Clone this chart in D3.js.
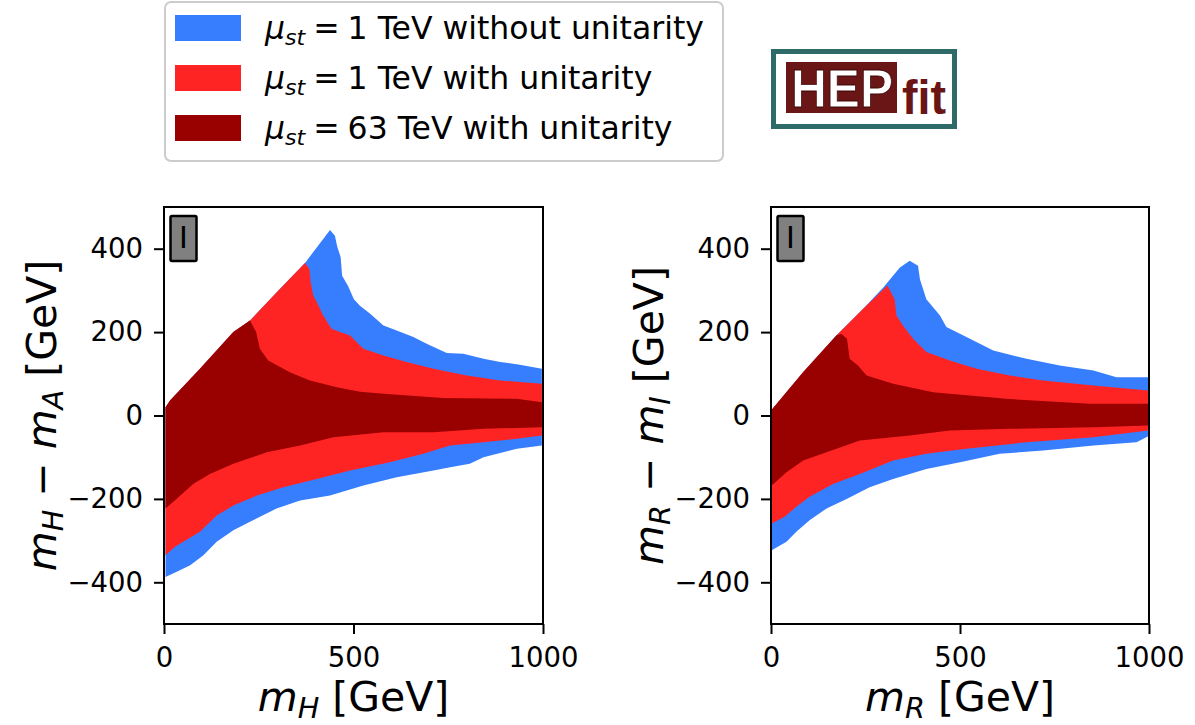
<!DOCTYPE html>
<html>
<head>
<meta charset="utf-8">
<script src="https://cdn.jsdelivr.net/npm/d3@7"></script>
<style>
body { margin: 0; background: #fff; }
svg { display: block; font-family: "DejaVu Sans", sans-serif; }
text { white-space: pre; }
</style>
</head>
<body>
<svg id="chart" width="1195" height="725"></svg>
<script>
// axis ticks
var xTicks = [0, 500, 1000];
var yTicks = [-400, -200, 0, 200, 400];

// legend
var seriesColors = ["#377eff", "#ff2424", "#990000"];
var legendLabels = ["1 TeV without unitarity", "1 TeV with unitarity", "63 TeV with unitarity"];

// left panel: m_H vs m_H - m_A, boundaries [x, y]
var leftBlueUpper = [[4,20],[16,36],[95,112],[183,200],[227,228],[300,298],[372,366],[405,405],[438,445],
  [451,431],[457,405],[466,380],[470,335],[486,310],[501,279],[517,263],[544,244],[579,216],[614,204],
  [658,188],[693,172],[746,150],[790,148],[843,136],[887,128],[939,122],[997,112]];
var leftBlueLower = [[4,-387],[42,-371],[69,-359],[104,-335],[139,-303],[183,-275],[227,-255],[297,-223],
  [359,-204],[438,-192],[526,-168],[614,-148],[711,-132],[755,-124],[807,-116],[843,-100],[931,-80],[997,-72]];
var leftRedUpper = [[4,20],[16,36],[95,112],[183,200],[227,228],[300,298],[372,366],
  [384,351],[387,319],[394,287],[403,272],[420,240],[442,208],[464,200],[491,192],[526,160],[579,144],
  [640,128],[711,112],[799,96],[887,84],[997,76]];
var leftRedLower = [[4,-335],[29,-315],[51,-303],[95,-279],[139,-240],[183,-216],[245,-192],[315,-172],
  [403,-152],[491,-132],[596,-112],[684,-92],[755,-72],[843,-64],[931,-56],[997,-48]];
var leftDarkUpper = [[4,20],[16,36],[95,112],[183,200],[227,228],
  [243,200],[253,160],[275,132],[332,104],[385,84],[456,68],[517,57],[579,52],[737,42],[931,40],[997,32]];
var leftDarkLower = [[4,-223],[33,-200],[77,-164],[121,-140],[183,-116],[271,-88],[359,-72],[447,-52],
  [579,-40],[711,-40],[843,-32],[997,-28]];

// right panel: m_R vs m_R - m_I
var rightBlueUpper = [[2,14],[85,104],[173,192],[244,256],[297,307],[341,355],[367,371],
  [389,359],[394,327],[411,279],[447,240],[464,212],[517,188],[588,156],[676,136],[764,120],[853,108],
  [914,92],[998,92]];
var rightBlueLower = [[2,-323],[41,-303],[67,-279],[102,-251],[147,-223],[200,-200],[261,-172],[323,-152],
  [411,-128],[500,-112],[605,-92],[720,-84],[853,-72],[967,-64],[998,-50]];
var rightRedUpper = [[2,14],[85,104],[173,192],[244,256],[308,312],
  [327,279],[332,240],[349,216],[376,184],[411,152],[473,132],[544,112],[632,96],[720,84],[853,72],[998,60]];
var rightRedLower = [[2,-259],[36,-243],[67,-219],[102,-195],[164,-164],[235,-140],[323,-108],[411,-92],
  [517,-80],[676,-64],[853,-52],[998,-36]];
var rightDarkUpper = [[2,14],[85,104],[173,192],[186,196],
  [201,184],[208,136],[230,120],[253,96],[323,76],[429,56],[623,40],[844,28],[998,28]];
var rightDarkLower = [[2,-168],[41,-136],[85,-108],[147,-88],[235,-60],[367,-48],[473,-36],[632,-32],
  [853,-28],[998,-24]];

var panels = [
  {id: "left", left: 164, right: 543,
   upper: [leftBlueUpper, leftRedUpper, leftDarkUpper],
   lower: [leftBlueLower, leftRedLower, leftDarkLower],
   xsub: "H", ysub: ["H", "A"]},
  {id: "right", left: 771, right: 1149,
   upper: [rightBlueUpper, rightRedUpper, rightDarkUpper],
   lower: [rightBlueLower, rightRedLower, rightDarkLower],
   xsub: "R", ysub: ["R", "I"]}
];

var chart = {
  top: 207,
  bottom: 624,
  initialize: function(){
    var self = this;
    self.svg = d3.select('#chart');
    self._render_legend();
    self._render_logo();
    panels.forEach(function(p){
      self._render_panel(p);
    });
    return self;
  },
  // mathtext-like run of tspans, subscripts shifted down
  _math: function(text, parts, fs){
    var shift = 0;
    parts.forEach(function(p){
      var target = p.sub ? fs * 0.18 : 0;
      var ts = text.append('tspan').text(p.t).attr('dy', target - shift);
      shift = target;
      if(p.sub) ts.attr('font-size', fs * 0.7);
      if(p.i) ts.attr('font-style', 'italic');
      if(p.dx) ts.attr('dx', p.dx);
    });
  },
  _render_legend: function(){
    var self = this;
    var g = self.svg.append('g');
    g.append('rect')
      .attr('x', 165).attr('y', 2).attr('width', 558).attr('height', 159)
      .attr('rx', 6)
      .attr('fill', '#fff').attr('stroke', '#cccccc').attr('stroke-width', 2);
    legendLabels.forEach(function(lab, i){
      var cy = 28 + i * 50;
      g.append('rect')
        .attr('x', 175).attr('y', cy - 13).attr('width', 66).attr('height', 26)
        .attr('fill', seriesColors[i]);
      var t = g.append('text')
        .attr('x', 265).attr('y', cy + 11)
        .attr('font-size', 31.5).attr('fill', '#000');
      self._math(t, [{t: 'μ', i: true}, {t: 'st', i: true, sub: true},
        {t: '=', dx: 8}, {t: lab, dx: 8}], 31.5);
    });
  },
  _render_logo: function(){
    var g = this.svg.append('g');
    g.append('rect')
      .attr('x', 773.5).attr('y', 51.5).attr('width', 181).attr('height', 75)
      .attr('fill', '#fff').attr('stroke', '#2e6b68').attr('stroke-width', 5);
    g.append('rect')
      .attr('x', 786).attr('y', 62).attr('width', 111).attr('height', 51)
      .attr('fill', '#6b1616');
    g.append('text')
      .attr('x', 842).attr('y', 107)
      .attr('text-anchor', 'middle')
      .attr('font-family', '"Liberation Sans", Arial, sans-serif')
      .attr('font-weight', 'bold').attr('font-size', 53)
      .attr('textLength', 102).attr('lengthAdjust', 'spacingAndGlyphs')
      .attr('fill', '#fff').attr('stroke', '#3a0808').attr('stroke-width', 0.8)
      .text('HEP');
    g.append('text')
      .attr('x', 924).attr('y', 114)
      .attr('text-anchor', 'middle')
      .attr('font-family', '"Liberation Sans", Arial, sans-serif')
      .attr('font-weight', 'bold').attr('font-size', 48)
      .attr('textLength', 44).attr('lengthAdjust', 'spacingAndGlyphs')
      .attr('fill', '#6b1616')
      .text('fit');
  },
  _render_panel: function(p){
    var self = this;
    var svg = self.svg;
    var x = d3.scaleLinear().domain([0, 1000]).range([p.left, p.right]);
    var y = d3.scaleLinear().domain([-500, 500]).range([self.bottom, self.top]);

    svg.append('clipPath').attr('id', 'clip-' + p.id)
      .append('rect')
      .attr('x', p.left).attr('y', self.top)
      .attr('width', p.right - p.left).attr('height', self.bottom - self.top);

    var line = d3.line()
      .x(function(d){ return x(d[0]); })
      .y(function(d){ return y(d[1]); });

    var g = svg.append('g').attr('clip-path', 'url(#clip-' + p.id + ')');
    p.upper.forEach(function(up, i){
      var ring = up.concat(p.lower[i].slice().reverse());
      g.append('path')
        .attr('d', line(ring) + 'Z')
        .attr('fill', seriesColors[i]);
    });

    // "I" badge
    svg.append('rect')
      .attr('x', p.left + 6.5).attr('y', 216).attr('width', 26).attr('height', 45)
      .attr('rx', 1.5)
      .attr('fill', '#808080').attr('stroke', '#000').attr('stroke-width', 2.5);
    svg.append('text')
      .attr('x', p.left + 19.5).attr('y', 248)
      .attr('text-anchor', 'middle').attr('font-size', 30)
      .text('I');

    var fmt = function(d){ return d < 0 ? '\u2212' + Math.abs(d) : String(d); };

    var ax = svg.append('g')
      .attr('transform', 'translate(0,' + self.bottom + ')')
      .call(d3.axisBottom(x).tickValues(xTicks).tickSize(10).tickPadding(13).tickFormat(fmt));
    var ay = svg.append('g')
      .attr('transform', 'translate(' + p.left + ',0)')
      .call(d3.axisLeft(y).tickValues(yTicks).tickSize(10).tickPadding(11).tickFormat(fmt));
    [ax, ay].forEach(function(a){
      a.select('.domain').remove();
      a.selectAll('.tick line').attr('stroke', '#000').attr('stroke-width', 2);
      a.selectAll('.tick text')
        .attr('font-family', '"DejaVu Sans", sans-serif')
        .attr('font-size', 27.5).attr('fill', '#000');
    });

    svg.append('rect')
      .attr('x', p.left).attr('y', self.top)
      .attr('width', p.right - p.left).attr('height', self.bottom - self.top)
      .attr('fill', 'none').attr('stroke', '#000').attr('stroke-width', 2);

    // axis titles
    var fs = 41;
    var xl = svg.append('text')
      .attr('x', (p.left + p.right) / 2).attr('y', 711)
      .attr('text-anchor', 'middle').attr('font-size', fs);
    self._math(xl, [{t: 'm', i: true}, {t: p.xsub, i: true, sub: true}, {t: ' [GeV]'}], fs);

    var yl = svg.append('text')
      .attr('transform', 'translate(' + (p.left - 108) + ',' + ((self.top + self.bottom) / 2) + ') rotate(-90)')
      .attr('text-anchor', 'middle').attr('font-size', fs);
    self._math(yl, [{t: 'm', i: true}, {t: p.ysub[0], i: true, sub: true}, {t: ' \u2212 '},
      {t: 'm', i: true}, {t: p.ysub[1], i: true, sub: true}, {t: ' [GeV]'}], fs);
  }
};

chart.initialize();
</script>
</body>
</html>
